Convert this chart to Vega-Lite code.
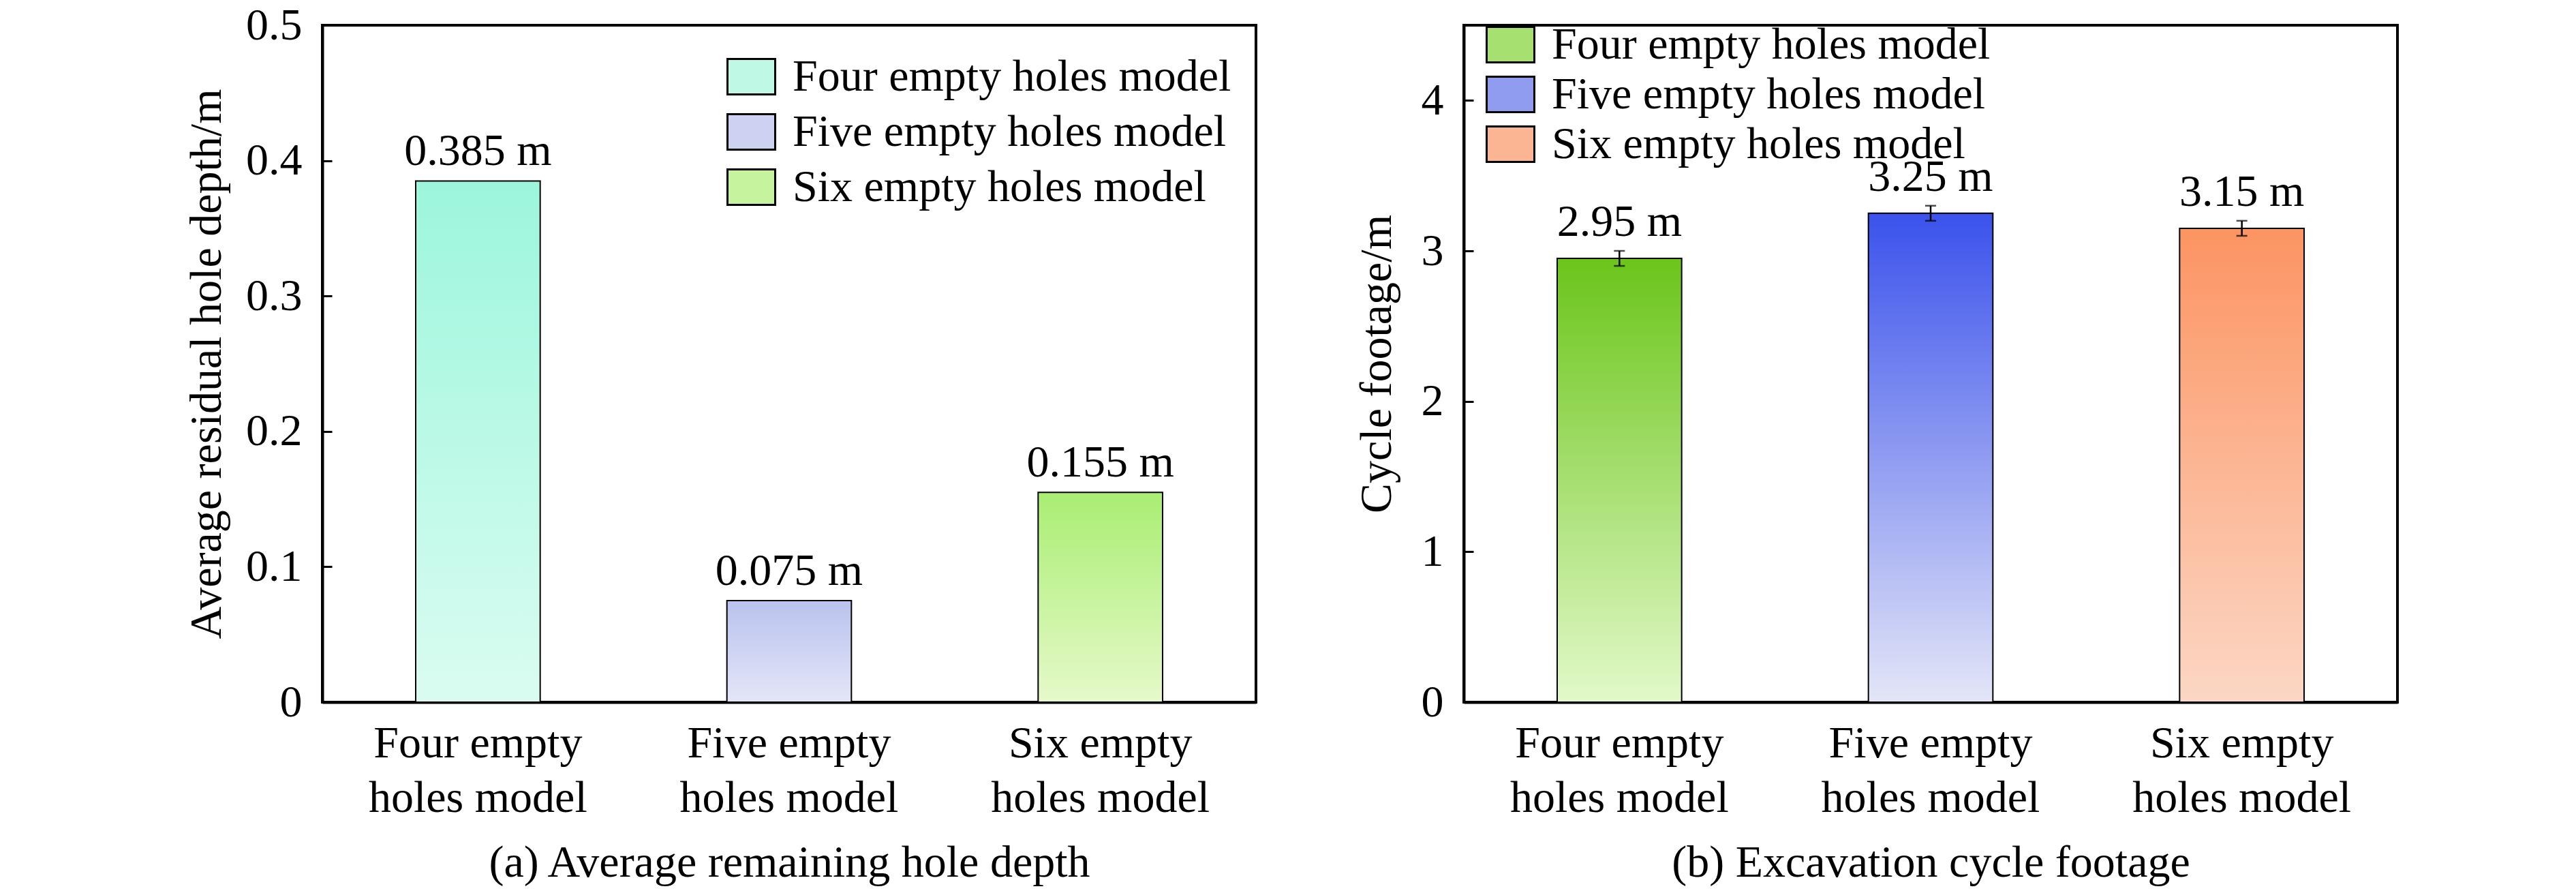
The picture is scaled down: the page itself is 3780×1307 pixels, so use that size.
{
  "$schema": "https://vega.github.io/schema/vega-lite/v6.json",
  "background": "white",
  "padding": {"left": 268, "top": 2, "right": 10, "bottom": 5},
  "config": {
    "font": "Liberation Serif",
    "view": {"stroke": "black", "strokeWidth": 4},
    "axis": {
      "grid": false,
      "domainColor": "black",
      "domainWidth": 4,
      "tickColor": "black",
      "tickWidth": 3,
      "labelColor": "black",
      "titleColor": "black",
      "labelFont": "Liberation Serif",
      "titleFont": "Liberation Serif",
      "labelFontSize": 66,
      "titleFontSize": 66,
      "titleFontWeight": "normal",
      "labelLimit": 0,
      "titleLimit": 0
    },
    "legend": {
      "title": null,
      "labelFont": "Liberation Serif",
      "labelFontSize": 66,
      "labelColor": "black",
      "labelLimit": 0,
      "labelOffset": 24,
      "symbolType": "M-1,-0.743H1V0.743H-1Z",
      "symbolSize": 4900,
      "symbolStrokeColor": "black",
      "symbolStrokeWidth": 3,
      "symbolOpacity": 1,
      "padding": 0
    },
    "concat": {"spacing": 140}
  },
  "hconcat": [
    {
      "width": 1370,
      "height": 993,
      "data": {
        "values": [
          {"model": "Four empty holes model", "depth": 0.385, "label": "0.385 m"},
          {"model": "Five empty holes model", "depth": 0.075, "label": "0.075 m"},
          {"model": "Six empty holes model", "depth": 0.155, "label": "0.155 m"}
        ]
      },
      "encoding": {
        "x": {
          "field": "model",
          "type": "nominal",
          "sort": null,
          "scale": {"paddingInner": 0.6, "paddingOuter": 0.3},
          "title": "(a) Average remaining hole depth",
          "axis": {
            "labelAngle": 0,
            "tickSize": -15,
            "labelPadding": 43,
            "labelLineHeight": 80,
            "labelExpr": "[replace(datum.label, ' holes model', ''), 'holes model']",
            "titlePadding": 30
          }
        },
        "y": {
          "field": "depth",
          "type": "quantitative",
          "scale": {"domain": [0, 0.5], "nice": false},
          "title": "Average residual hole depth/m",
          "axis": {
            "values": [0, 0.1, 0.2, 0.3, 0.4, 0.5],
            "format": ".1~f",
            "tickSize": -14,
            "labelPadding": 44,
            "titlePadding": 23
          }
        }
      },
      "layer": [
        {
          "mark": {"type": "bar", "stroke": "black", "strokeWidth": 2},
          "encoding": {
            "fill": {
              "condition": [
                {"test": "datum.model === 'Four empty holes model'", "value": {"gradient": "linear", "x1": 0, "y1": 0, "x2": 0, "y2": 1, "stops": [{"offset": 0, "color": "#9cf6dc"}, {"offset": 1, "color": "#dafcf1"}]}},
                {"test": "datum.model === 'Five empty holes model'", "value": {"gradient": "linear", "x1": 0, "y1": 0, "x2": 0, "y2": 1, "stops": [{"offset": 0, "color": "#bac2ef"}, {"offset": 1, "color": "#e4e6f7"}]}},
                {"test": "datum.model === 'Six empty holes model'", "value": {"gradient": "linear", "x1": 0, "y1": 0, "x2": 0, "y2": 1, "stops": [{"offset": 0, "color": "#a9ee72"}, {"offset": 1, "color": "#e6f9ca"}]}}
              ],
              "field": "model",
              "type": "nominal",
              "sort": null,
              "scale": {
                "domain": ["Four empty holes model", "Five empty holes model", "Six empty holes model"],
                "range": ["#c0f8e6", "#cdd2f2", "#c6f39e"]
              },
              "legend": {
                "orient": "none",
                "legendX": 593,
                "legendY": 39,
                "rowPadding": 11,
                "encode": {
                  "symbols": {
                    "update": {
                      "fill": [
                        {"test": "datum.value === 'Four empty holes model'", "value": {"gradient": "linear", "x1": 0, "y1": 0, "x2": 0, "y2": 1, "stops": [{"offset": 0, "color": "#9cf6dc"}, {"offset": 1, "color": "#dafcf1"}]}},
                        {"test": "datum.value === 'Five empty holes model'", "value": {"gradient": "linear", "x1": 0, "y1": 0, "x2": 0, "y2": 1, "stops": [{"offset": 0, "color": "#bac2ef"}, {"offset": 1, "color": "#e4e6f7"}]}},
                        {"value": {"gradient": "linear", "x1": 0, "y1": 0, "x2": 0, "y2": 1, "stops": [{"offset": 0, "color": "#a9ee72"}, {"offset": 1, "color": "#e6f9ca"}]}}
                      ],
                      "stroke": {"value": "black"},
                      "opacity": {"value": 1}
                    }
                  }
                }
              }
            }
          }
        },
        {
          "mark": {"type": "text", "baseline": "alphabetic", "dy": -23, "fontSize": 66, "color": "black"},
          "encoding": {"text": {"field": "label"}}
        }
      ]
    },
    {
      "width": 1370,
      "height": 993,
      "data": {
        "values": [
          {"model": "Four empty holes model", "footage": 2.95, "lo": 2.9, "hi": 3.0, "label": "2.95 m"},
          {"model": "Five empty holes model", "footage": 3.25, "lo": 3.2, "hi": 3.3, "label": "3.25 m"},
          {"model": "Six empty holes model", "footage": 3.15, "lo": 3.1, "hi": 3.2, "label": "3.15 m"}
        ]
      },
      "encoding": {
        "x": {
          "field": "model",
          "type": "nominal",
          "sort": null,
          "scale": {"paddingInner": 0.6, "paddingOuter": 0.3},
          "title": "(b) Excavation cycle footage",
          "axis": {
            "labelAngle": 0,
            "tickSize": -15,
            "labelPadding": 43,
            "labelLineHeight": 80,
            "labelExpr": "[replace(datum.label, ' holes model', ''), 'holes model']",
            "titlePadding": 30
          }
        }
      },
      "layer": [
        {
          "mark": {"type": "bar", "stroke": "black", "strokeWidth": 2},
          "encoding": {
            "y": {
              "field": "footage",
              "type": "quantitative",
              "scale": {"domain": [0, 4.5], "nice": false},
              "title": "Cycle footage/m",
              "axis": {
                "values": [0, 1, 2, 3, 4],
                "format": "d",
                "tickSize": -14,
                "labelPadding": 44,
                "titlePadding": 31
              }
            },
            "fill": {
              "condition": [
                {"test": "datum.model === 'Four empty holes model'", "value": {"gradient": "linear", "x1": 0, "y1": 0, "x2": 0, "y2": 1, "stops": [{"offset": 0, "color": "#6bc51a"}, {"offset": 1, "color": "#e2f9c9"}]}},
                {"test": "datum.model === 'Five empty holes model'", "value": {"gradient": "linear", "x1": 0, "y1": 0, "x2": 0, "y2": 1, "stops": [{"offset": 0, "color": "#3b52ec"}, {"offset": 1, "color": "#e4e6f7"}]}},
                {"test": "datum.model === 'Six empty holes model'", "value": {"gradient": "linear", "x1": 0, "y1": 0, "x2": 0, "y2": 1, "stops": [{"offset": 0, "color": "#fc9462"}, {"offset": 1, "color": "#fcd7c5"}]}}
              ],
              "field": "model",
              "type": "nominal",
              "sort": null,
              "scale": {
                "domain": ["Four empty holes model", "Five empty holes model", "Six empty holes model"],
                "range": ["#a6e070", "#8f9cf0", "#fcb593"]
              },
              "legend": {
                "orient": "none",
                "legendX": 32,
                "legendY": -8,
                "rowPadding": 3,
                "encode": {
                  "symbols": {
                    "update": {
                      "fill": [
                        {"test": "datum.value === 'Four empty holes model'", "value": {"gradient": "linear", "x1": 0, "y1": 0, "x2": 0, "y2": 1, "stops": [{"offset": 0, "color": "#6bc51a"}, {"offset": 1, "color": "#e2f9c9"}]}},
                        {"test": "datum.value === 'Five empty holes model'", "value": {"gradient": "linear", "x1": 0, "y1": 0, "x2": 0, "y2": 1, "stops": [{"offset": 0, "color": "#3b52ec"}, {"offset": 1, "color": "#e4e6f7"}]}},
                        {"value": {"gradient": "linear", "x1": 0, "y1": 0, "x2": 0, "y2": 1, "stops": [{"offset": 0, "color": "#fc9462"}, {"offset": 1, "color": "#fcd7c5"}]}}
                      ],
                      "stroke": {"value": "black"},
                      "opacity": {"value": 1}
                    }
                  }
                }
              }
            }
          }
        },
        {
          "mark": {"type": "rule", "color": "black", "strokeWidth": 2.5},
          "encoding": {
            "y": {"field": "lo", "type": "quantitative"},
            "y2": {"field": "hi"}
          }
        },
        {
          "mark": {"type": "tick", "color": "black", "size": 16, "thickness": 2.5},
          "encoding": {"y": {"field": "lo", "type": "quantitative"}}
        },
        {
          "mark": {"type": "tick", "color": "black", "size": 16, "thickness": 2.5},
          "encoding": {"y": {"field": "hi", "type": "quantitative"}}
        },
        {
          "mark": {"type": "text", "baseline": "alphabetic", "dy": -22, "fontSize": 66, "color": "black"},
          "encoding": {
            "y": {"field": "hi", "type": "quantitative"},
            "text": {"field": "label"}
          }
        }
      ]
    }
  ],
  "resolve": {"scale": {"fill": "independent"}, "legend": {"fill": "independent"}}
}
